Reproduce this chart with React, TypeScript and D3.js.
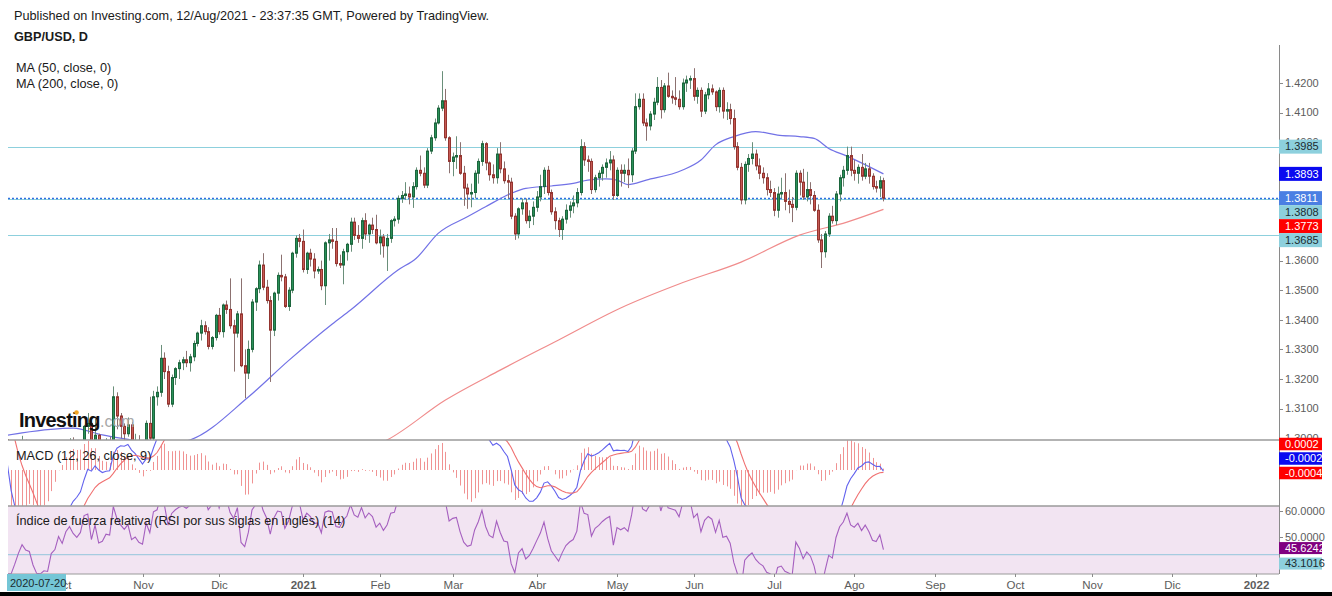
import React from "react";
import * as d3 from "d3";

// ---------------- DATA ----------------
// Closes before the first drawn candle (2020-07-20 .. 2020-09-04), used only to warm up MACD / RSI
const warmupCloses = [
  1.2655, 1.2735, 1.2735, 1.2730, 1.2790,
  1.2880, 1.2930, 1.2995, 1.3095, 1.3085,
  1.3075, 1.3090, 1.3140, 1.3125, 1.3050,
  1.3075, 1.3045, 1.3045, 1.3065, 1.3085,
  1.3110, 1.3245, 1.3095, 1.3215, 1.3090,
  1.3085, 1.3155, 1.3225, 1.3275, 1.3350,
  1.3370, 1.3410, 1.3315, 1.3265, 1.3280,
];

// Daily candles, one per weekday, from 2020-09-07 to 2021-08-12 (one row = one week)
const opens = [
  1.3280, 1.3155, 1.2975, 1.2995, 1.2795,
  1.2795, 1.2850, 1.2915, 1.2970, 1.2930,
  1.2920, 1.2815, 1.2740, 1.2735, 1.2750,
  1.2745, 1.2830, 1.2850, 1.2920, 1.2880,
  1.2945, 1.2975, 1.2940, 1.2920, 1.2945,
  1.3040, 1.3050, 1.2925, 1.3010, 1.2905,
  1.2915, 1.2955, 1.2950, 1.3140, 1.3075,
  1.3040, 1.3015, 1.3045, 1.2960, 1.2975,
  1.2945, 1.2935, 1.3050, 1.3000, 1.3140,
  1.3155, 1.3270, 1.3225, 1.3115, 1.3205,
  1.3235, 1.3255, 1.3265, 1.3255, 1.3275,
  1.3320, 1.3355, 1.3380, 1.3360, 1.3310,
  1.3340, 1.3415, 1.3360, 1.3450, 1.3435,
  1.3380, 1.3355, 1.3420, 1.3245, 1.3220,
  1.3300, 1.3460, 1.3505, 1.3585, 1.3510,
  1.3465, 1.3365, 1.3490, 1.3550, 1.3545,
  1.3445, 1.3500, 1.3625, 1.3675, 1.3665,
  1.3570, 1.3625, 1.3605, 1.3565, 1.3570,
  1.3515, 1.3660, 1.3670, 1.3665, 1.3590,
  1.3585, 1.3630, 1.3655, 1.3730, 1.3685,
  1.3675, 1.3735, 1.3690, 1.3720, 1.3705,
  1.3660, 1.3680, 1.3650, 1.3675, 1.3735,
  1.3740, 1.3810, 1.3820, 1.3825, 1.3815,
  1.3850, 1.3905, 1.3895, 1.3855, 1.3970,
  1.4015, 1.4065, 1.4115, 1.4140, 1.4015,
  1.3935, 1.3950, 1.3955, 1.3895, 1.3845,
  1.3825, 1.3830, 1.3895, 1.3935, 1.3995,
  1.3930, 1.3890, 1.3880, 1.3960, 1.3910,
  1.3870, 1.3865, 1.3750, 1.3690, 1.3775,
  1.3795, 1.3735, 1.3750, 1.3780, 1.3815,
  1.3850, 1.3905, 1.3830, 1.3765, 1.3735,
  1.3705, 1.3740, 1.3770, 1.3785, 1.3795,
  1.3830, 1.3985, 1.3940, 1.3935, 1.3840,
  1.3880, 1.3895, 1.3915, 1.3930, 1.3940,
  1.3820, 1.3905, 1.3895, 1.3905, 1.3890,
  1.3970, 1.4120, 1.4145, 1.4065, 1.4055,
  1.4095, 1.4135, 1.4185, 1.4110, 1.4190,
  1.4155, 1.4150, 1.4145, 1.4120, 1.4200,
  1.4210, 1.4215, 1.4155, 1.4175, 1.4105,
  1.4160, 1.4180, 1.4170, 1.4120, 1.4175,
  1.4105, 1.4110, 1.4080, 1.3985, 1.3915,
  1.3805, 1.3925, 1.3945, 1.3960, 1.3920,
  1.3895, 1.3880, 1.3840, 1.3830, 1.3770,
  1.3825, 1.3830, 1.3800, 1.3790, 1.3780,
  1.3895, 1.3865, 1.3815, 1.3840, 1.3820,
  1.3770, 1.3670, 1.3630, 1.3690, 1.3750,
  1.3735, 1.3825, 1.3880, 1.3905, 1.3955,
  1.3905, 1.3895, 1.3915, 1.3885, 1.3910,
  1.3885, 1.3850, 1.3845, 1.3870,
];
const highs = [
  1.3290, 1.3165, 1.3035, 1.3005, 1.2835,
  1.2865, 1.2950, 1.3008, 1.2995, 1.2985,
  1.2935, 1.2815, 1.2775, 1.2805, 1.2765,
  1.2855, 1.2895, 1.2945, 1.2980, 1.2960,
  1.3000, 1.3003, 1.2955, 1.2985, 1.3045,
  1.3085, 1.3060, 1.3065, 1.3015, 1.2955,
  1.3000, 1.3005, 1.3175, 1.3155, 1.3085,
  1.3050, 1.3070, 1.3055, 1.3015, 1.3010,
  1.2965, 1.3060, 1.3140, 1.3160, 1.3175,
  1.3315, 1.3290, 1.3245, 1.3215, 1.3240,
  1.3265, 1.3275, 1.3295, 1.3285, 1.3330,
  1.3360, 1.3400, 1.3395, 1.3375, 1.3345,
  1.3420, 1.3440, 1.3455, 1.3465, 1.3540,
  1.3400, 1.3430, 1.3540, 1.3300, 1.3330,
  1.3470, 1.3510, 1.3600, 1.3625, 1.3535,
  1.3480, 1.3495, 1.3560, 1.3620, 1.3555,
  1.3510, 1.3630, 1.3685, 1.3690, 1.3705,
  1.3630, 1.3640, 1.3625, 1.3580, 1.3600,
  1.3665, 1.3690, 1.3710, 1.3710, 1.3620,
  1.3640, 1.3660, 1.3745, 1.3745, 1.3720,
  1.3745, 1.3760, 1.3725, 1.3745, 1.3755,
  1.3705, 1.3690, 1.3690, 1.3740, 1.3750,
  1.3820, 1.3835, 1.3865, 1.3850, 1.3865,
  1.3915, 1.3955, 1.3915, 1.3980, 1.4025,
  1.4080, 1.4125, 1.4240, 1.4180, 1.4020,
  1.3965, 1.4020, 1.4000, 1.3920, 1.3860,
  1.3860, 1.3905, 1.3945, 1.4005, 1.4000,
  1.3935, 1.3925, 1.3980, 1.4000, 1.3935,
  1.3890, 1.3880, 1.3760, 1.3780, 1.3810,
  1.3810, 1.3770, 1.3800, 1.3835, 1.3890,
  1.3915, 1.3920, 1.3840, 1.3780, 1.3745,
  1.3750, 1.3790, 1.3800, 1.3820, 1.3845,
  1.4010, 1.4000, 1.3955, 1.3945, 1.3890,
  1.3905, 1.3925, 1.3945, 1.3970, 1.3955,
  1.3915, 1.3925, 1.3925, 1.3945, 1.3980,
  1.4165, 1.4165, 1.4165, 1.4080, 1.4105,
  1.4150, 1.4220, 1.4210, 1.4200, 1.4235,
  1.4175, 1.4220, 1.4175, 1.4215, 1.4225,
  1.4225, 1.4250, 1.4185, 1.4185, 1.4170,
  1.4200, 1.4195, 1.4175, 1.4185, 1.4185,
  1.4135, 1.4130, 1.4110, 1.4000, 1.3930,
  1.3935, 1.3960, 1.4000, 1.3975, 1.3945,
  1.3915, 1.3895, 1.3870, 1.3845, 1.3850,
  1.3880, 1.3895, 1.3840, 1.3815, 1.3905,
  1.3905, 1.3910, 1.3900, 1.3865, 1.3835,
  1.3790, 1.3690, 1.3700, 1.3760, 1.3785,
  1.3835, 1.3890, 1.3920, 1.3985, 1.3985,
  1.3940, 1.3925, 1.3960, 1.3930, 1.3930,
  1.3895, 1.3870, 1.3885, 1.3880,
];
const lows = [
  1.3150, 1.2965, 1.2925, 1.2765, 1.2765,
  1.2775, 1.2825, 1.2900, 1.2865, 1.2900,
  1.2800, 1.2720, 1.2675, 1.2700, 1.2690,
  1.2740, 1.2795, 1.2805, 1.2845, 1.2845,
  1.2920, 1.2890, 1.2865, 1.2910, 1.2925,
  1.3015, 1.2915, 1.2910, 1.2865, 1.2890,
  1.2905, 1.2870, 1.2940, 1.3030, 1.3000,
  1.2990, 1.3005, 1.2940, 1.2915, 1.2880,
  1.2855, 1.2920, 1.2855, 1.2990, 1.3110,
  1.3140, 1.3200, 1.3105, 1.3105, 1.3180,
  1.3200, 1.3230, 1.3240, 1.3225, 1.3260,
  1.3310, 1.3330, 1.3350, 1.3300, 1.3300,
  1.3330, 1.3350, 1.3340, 1.3420, 1.3370,
  1.3225, 1.3340, 1.3240, 1.3135, 1.3200,
  1.3290, 1.3430, 1.3490, 1.3500, 1.3455,
  1.3190, 1.3345, 1.3465, 1.3530, 1.3440,
  1.3430, 1.3490, 1.3610, 1.3645, 1.3560,
  1.3555, 1.3580, 1.3540, 1.3555, 1.3500,
  1.3450, 1.3600, 1.3640, 1.3580, 1.3575,
  1.3520, 1.3600, 1.3630, 1.3670, 1.3660,
  1.3640, 1.3670, 1.3660, 1.3690, 1.3655,
  1.3620, 1.3610, 1.3565, 1.3660, 1.3715,
  1.3725, 1.3795, 1.3805, 1.3790, 1.3778,
  1.3840, 1.3885, 1.3845, 1.3845, 1.3960,
  1.4005, 1.4060, 1.4105, 1.4005, 1.3895,
  1.3885, 1.3910, 1.3890, 1.3785, 1.3775,
  1.3780, 1.3810, 1.3860, 1.3920, 1.3905,
  1.3870, 1.3860, 1.3860, 1.3895, 1.3860,
  1.3810, 1.3740, 1.3670, 1.3675, 1.3755,
  1.3725, 1.3710, 1.3720, 1.3765, 1.3800,
  1.3825, 1.3820, 1.3755, 1.3705, 1.3680,
  1.3670, 1.3725, 1.3745, 1.3760, 1.3780,
  1.3820, 1.3920, 1.3900, 1.3825, 1.3830,
  1.3850, 1.3870, 1.3880, 1.3905, 1.3805,
  1.3815, 1.3850, 1.3865, 1.3845, 1.3865,
  1.3960, 1.4110, 1.4055, 1.4005, 1.4040,
  1.4075, 1.4125, 1.4080, 1.4100, 1.4150,
  1.4130, 1.4125, 1.4110, 1.4110, 1.4170,
  1.4180, 1.4140, 1.4130, 1.4085, 1.4095,
  1.4145, 1.4160, 1.4105, 1.4100, 1.4080,
  1.4075, 1.4060, 1.3975, 1.3905, 1.3790,
  1.3790, 1.3900, 1.3925, 1.3905, 1.3875,
  1.3860, 1.3820, 1.3815, 1.3750, 1.3745,
  1.3810, 1.3770, 1.3760, 1.3730, 1.3770,
  1.3820, 1.3805, 1.3800, 1.3790, 1.3765,
  1.3660, 1.3575, 1.3610, 1.3680, 1.3725,
  1.3720, 1.3800, 1.3850, 1.3890, 1.3885,
  1.3870, 1.3860, 1.3870, 1.3875, 1.3860,
  1.3840, 1.3830, 1.3815, 1.3800,
];
const closes = [
  1.3155, 1.2975, 1.2995, 1.2795, 1.2795,
  1.2850, 1.2915, 1.2970, 1.2930, 1.2920,
  1.2815, 1.2740, 1.2735, 1.2750, 1.2745,
  1.2830, 1.2850, 1.2920, 1.2880, 1.2945,
  1.2975, 1.2940, 1.2920, 1.2945, 1.3040,
  1.3050, 1.2925, 1.3010, 1.2905, 1.2915,
  1.2955, 1.2950, 1.3140, 1.3075, 1.3040,
  1.3015, 1.3045, 1.2960, 1.2975, 1.2945,
  1.2935, 1.3050, 1.3000, 1.3140, 1.3155,
  1.3270, 1.3225, 1.3115, 1.3205, 1.3235,
  1.3255, 1.3265, 1.3255, 1.3275, 1.3320,
  1.3355, 1.3380, 1.3360, 1.3310, 1.3340,
  1.3415, 1.3360, 1.3450, 1.3435, 1.3380,
  1.3355, 1.3420, 1.3245, 1.3220, 1.3300,
  1.3460, 1.3505, 1.3585, 1.3510, 1.3465,
  1.3365, 1.3490, 1.3550, 1.3545, 1.3445,
  1.3500, 1.3625, 1.3675, 1.3665, 1.3570,
  1.3625, 1.3605, 1.3565, 1.3570, 1.3515,
  1.3660, 1.3670, 1.3665, 1.3590, 1.3585,
  1.3630, 1.3655, 1.3730, 1.3685, 1.3675,
  1.3735, 1.3690, 1.3720, 1.3705, 1.3660,
  1.3680, 1.3650, 1.3675, 1.3735, 1.3740,
  1.3810, 1.3820, 1.3825, 1.3815, 1.3850,
  1.3905, 1.3895, 1.3855, 1.3970, 1.4015,
  1.4065, 1.4115, 1.4140, 1.4015, 1.3935,
  1.3950, 1.3955, 1.3895, 1.3845, 1.3825,
  1.3830, 1.3895, 1.3935, 1.3995, 1.3930,
  1.3890, 1.3880, 1.3960, 1.3910, 1.3870,
  1.3865, 1.3750, 1.3690, 1.3775, 1.3795,
  1.3735, 1.3750, 1.3780, 1.3815, 1.3850,
  1.3905, 1.3830, 1.3765, 1.3735, 1.3705,
  1.3740, 1.3770, 1.3785, 1.3795, 1.3830,
  1.3985, 1.3940, 1.3935, 1.3840, 1.3880,
  1.3895, 1.3915, 1.3930, 1.3940, 1.3820,
  1.3905, 1.3895, 1.3905, 1.3890, 1.3970,
  1.4120, 1.4145, 1.4065, 1.4055, 1.4095,
  1.4135, 1.4185, 1.4110, 1.4190, 1.4155,
  1.4150, 1.4145, 1.4120, 1.4200, 1.4210,
  1.4215, 1.4155, 1.4175, 1.4105, 1.4160,
  1.4180, 1.4170, 1.4120, 1.4175, 1.4105,
  1.4110, 1.4080, 1.3985, 1.3915, 1.3805,
  1.3925, 1.3945, 1.3960, 1.3920, 1.3895,
  1.3880, 1.3840, 1.3830, 1.3770, 1.3825,
  1.3830, 1.3800, 1.3790, 1.3780, 1.3895,
  1.3865, 1.3815, 1.3840, 1.3820, 1.3770,
  1.3670, 1.3630, 1.3690, 1.3750, 1.3735,
  1.3825, 1.3880, 1.3905, 1.3955, 1.3905,
  1.3895, 1.3915, 1.3885, 1.3910, 1.3885,
  1.3850, 1.3845, 1.3870, 1.3811,
];

// Moving averages
const ma50Dates = [
  "2020-09-07", "2020-09-16", "2020-10-06", "2020-10-16", "2020-10-28", "2020-11-09", "2020-11-19",
  "2020-12-11", "2020-12-28", "2021-01-13", "2021-01-20", "2021-02-08", "2021-02-15", "2021-02-23",
  "2021-03-05", "2021-03-12", "2021-03-23", "2021-03-29", "2021-04-07", "2021-04-15", "2021-04-21",
  "2021-04-28", "2021-05-03", "2021-05-06", "2021-05-13", "2021-05-27", "2021-06-03", "2021-06-09",
  "2021-06-16", "2021-06-24", "2021-07-02", "2021-07-12", "2021-07-16", "2021-07-22", "2021-07-29",
  "2021-08-12",
];
const ma50Values = [
  1.3003, 1.3018, 1.3034, 1.3011, 1.2994, 1.2978, 1.2994,
  1.3139, 1.3262, 1.3386, 1.3433, 1.3568, 1.3608, 1.3692,
  1.3748, 1.3782, 1.3827, 1.3844, 1.3852, 1.3861, 1.3872,
  1.3876, 1.3872, 1.3857, 1.3872, 1.3906, 1.3940, 1.3991,
  1.4019, 1.4036, 1.4024, 1.4019, 1.4013, 1.3979, 1.3953,
  1.3893,
];
const ma200Dates = [
  "2020-11-02", "2021-01-04", "2021-02-03", "2021-02-25", "2021-03-18", "2021-04-09",
  "2021-05-04", "2021-05-26", "2021-06-18", "2021-07-12", "2021-07-29", "2021-08-12",
];
const ma200Values = [
  1.2790, 1.2925, 1.2994, 1.3129, 1.3230, 1.3332,
  1.3440, 1.3521, 1.3595, 1.3686, 1.3730, 1.3773,
];

// Horizontal drawn lines and last-value labels
const levelLines = [1.3985, 1.3808, 1.3685];
const lastPrice = 1.3811;
const macdLastValues = [0.0002, -0.0002, -0.0004]; // histogram, MACD, signal
const rsiLevel = 43.1016;
const rsiLast = 45.6242;

// Axis ticks
const priceTicks = [1.30, 1.31, 1.32, 1.33, 1.34, 1.35, 1.36, 1.37, 1.38, 1.39, 1.40, 1.41, 1.42];
const rsiTicks = [50, 60];
const monthTickDates = [
  "2020-10-01", "2020-11-02", "2020-12-01", "2021-01-01", "2021-02-01", "2021-03-01", "2021-04-01",
  "2021-05-03", "2021-06-01", "2021-07-01", "2021-08-02", "2021-09-01", "2021-10-01", "2021-11-01",
  "2021-12-01", "2022-01-03",
];
const monthTickLabels = [
  "Oct", "Nov", "Dic", "2021", "Feb", "Mar", "Abr", "May", "Jun", "Jul", "Ago", "Sep", "Oct", "Nov", "Dic", "2022",
];

// ---------------- LAYOUT ----------------
const W = 1332;
const H = 596;
const LEFT = 8;
const AXIS_X = 1279;
const MAIN_TOP = 45;
const MAIN_BOTTOM = 440;
const MACD_BOTTOM = 506;
const RSI_BOTTOM = 574;
const FONT = "'Liberation Sans', Arial, Helvetica, sans-serif";
const TXT = 12.7;
const PRICE_LABEL_H = 14;

// weekday calendar
const DAY = 86400000;
const parseDay = (s: string) => {
  const [y, m, d] = s.split("-").map(Number);
  return Date.UTC(y, m - 1, d);
};
const calendar: number[] = [];
for (let t = parseDay("2020-07-20"); t <= parseDay("2022-02-28"); t += DAY) {
  const wd = new Date(t).getUTCDay();
  if (wd !== 0 && wd !== 6) calendar.push(t);
}
const calIndex = new Map<number, number>(calendar.map((t, i) => [t, i]));
const anchor = calIndex.get(parseDay("2020-11-02"))!;
const pos = (s: string) => calIndex.get(parseDay(s))! - anchor;
const candleStart = pos("2020-09-07");
const warmStart = pos("2020-07-20");

const xs = d3.scaleLinear().domain([0, 100]).range([142.5, 142.5 + 365]);
const yPrice = d3.scaleLinear().domain([1.3, 1.42]).range([438.2, 83]);
const yMacd = d3.scaleLinear().domain([0, 0.003]).range([470, 440]);
const yRsi = d3.scaleLinear().domain([50, 60]).range([536.7, 510.7]);

// ---------------- INDICATORS ----------------
const allCloses = warmupCloses.concat(closes);
function emaSeries(src: number[], n: number): (number | null)[] {
  const out: (number | null)[] = new Array(src.length).fill(null);
  const k = 2 / (n + 1);
  let prev = 0;
  for (let i = 0; i < src.length; i++) {
    if (i === n - 1) prev = d3.mean(src.slice(0, n)) as number;
    else if (i >= n) prev = src[i] * k + prev * (1 - k);
    if (i >= n - 1) out[i] = prev;
  }
  return out;
}
const ema12 = emaSeries(allCloses, 12);
const ema26 = emaSeries(allCloses, 26);
const macdStart = 25;
const macdVals: number[] = [];
for (let i = macdStart; i < allCloses.length; i++) macdVals.push((ema12[i] as number) - (ema26[i] as number));
const sigVals = emaSeries(macdVals, 9);
type Pt = { p: number; v: number };
const macdLine: Pt[] = [];
const signalLine: Pt[] = [];
const histBars: Pt[] = [];
macdVals.forEach((m, k) => {
  const p = warmStart + macdStart + k;
  macdLine.push({ p, v: m });
  const s = sigVals[k];
  if (s !== null) {
    signalLine.push({ p, v: s });
    histBars.push({ p, v: m - s });
  }
});

const rsiLine: Pt[] = [];
{
  let ag = 0;
  let al = 0;
  for (let i = 1; i < allCloses.length; i++) {
    const ch = allCloses[i] - allCloses[i - 1];
    const g = Math.max(ch, 0);
    const l = Math.max(-ch, 0);
    if (i <= 14) {
      ag += g / 14;
      al += l / 14;
    } else {
      ag = (ag * 13 + g) / 14;
      al = (al * 13 + l) / 14;
    }
    if (i >= 14) {
      const r = al === 0 ? 100 : 100 - 100 / (1 + ag / al);
      rsiLine.push({ p: warmStart + i, v: r });
    }
  }
}

// ---------------- HELPERS ----------------
type Lbl = { y: number; text: string; bg: string; fg: string };
function stackDown(items: Lbl[], gap: number): Lbl[] {
  const s = [...items].sort((a, b) => a.y - b.y);
  let prev = -Infinity;
  return s.map((it) => {
    const y = Math.max(it.y, prev + gap);
    prev = y;
    return { ...it, y };
  });
}
function stackUp(items: Lbl[], gap: number): Lbl[] {
  const s = [...items].sort((a, b) => b.y - a.y);
  let prev = Infinity;
  return s.map((it) => {
    const y = Math.min(it.y, prev - gap);
    prev = y;
    return { ...it, y };
  });
}

const CYAN = "#8dd0dd";

export default function App() {
  const ma50Pts: [number, number][] = ma50Dates.map((d, i) => [xs(pos(d)), yPrice(ma50Values[i])]);
  const ma200Pts: [number, number][] = ma200Dates.map((d, i) => [xs(pos(d)), yPrice(ma200Values[i])]);
  const curve = d3.line().curve(d3.curveMonotoneX);

  const lineP = d3
    .line<Pt>()
    .x((d) => xs(d.p))
    .y((d) => yMacd(d.v));
  const lineR = d3
    .line<Pt>()
    .x((d) => xs(d.p))
    .y((d) => yRsi(d.v));

  const priceLabels = stackDown(
    [
      { y: yPrice(levelLines[0]), text: levelLines[0].toFixed(4), bg: CYAN, fg: "#1b2b30" },
      { y: yPrice(ma50Values[ma50Values.length - 1]), text: ma50Values[ma50Values.length - 1].toFixed(4), bg: "#0a0af0", fg: "#ffffff" },
      { y: yPrice(lastPrice), text: lastPrice.toFixed(4), bg: "#4b7fe3", fg: "#ffffff" },
      { y: yPrice(levelLines[1]), text: levelLines[1].toFixed(4), bg: CYAN, fg: "#1b2b30" },
      { y: yPrice(ma200Values[ma200Values.length - 1]), text: ma200Values[ma200Values.length - 1].toFixed(4), bg: "#ff0000", fg: "#ffffff" },
      { y: yPrice(levelLines[2]), text: levelLines[2].toFixed(4), bg: CYAN, fg: "#1b2b30" },
    ],
    14
  );
  const macdLabels = stackUp(
    [
      { y: yMacd(macdLastValues[0]), text: macdLastValues[0].toFixed(4), bg: "#ff0000", fg: "#ffffff" },
      { y: yMacd(macdLastValues[1]), text: macdLastValues[1].toFixed(4), bg: "#0a0af0", fg: "#ffffff" },
      { y: 473, text: macdLastValues[2].toFixed(4), bg: "#ff0000", fg: "#ffffff" },
    ],
    14.5
  );
  const rsiLabels = stackDown(
    [
      { y: yRsi(rsiLast), text: rsiLast.toFixed(4), bg: "#800080", fg: "#ffffff" },
      { y: yRsi(rsiLevel), text: rsiLevel.toFixed(4), bg: CYAN, fg: "#1b2b30" },
    ],
    15.5
  );

  // tick labels completely hidden behind value boxes are not drawn
  const inBox = (yy: number) => priceLabels.some((l) => yy >= l.y - PRICE_LABEL_H / 2 && yy <= l.y + PRICE_LABEL_H / 2);
  const visiblePriceTicks = priceTicks.filter((v) => !(inBox(yPrice(v) - 4) && inBox(yPrice(v) + 4)));

  const drawLabel = (l: Lbl, h: number, key: string) => (
    <g key={key}>
      <rect x={AXIS_X} y={l.y - h / 2} width={43} height={h} fill={l.bg} />
      <text x={1285} y={l.y} dy="0.35em" fontSize={11} fill={l.fg} fontFamily={FONT}>
        {l.text}
      </text>
    </g>
  );

  return (
    <svg
      width={W}
      height={H}
      style={{ position: "absolute", left: 0, top: 0, display: "block", background: "#ffffff" }}
      fontFamily={FONT}
    >
      <defs>
        <clipPath id="clipMain">
          <rect x={LEFT} y={MAIN_TOP} width={AXIS_X - LEFT} height={MAIN_BOTTOM - MAIN_TOP} />
        </clipPath>
        <clipPath id="clipMacd">
          <rect x={LEFT} y={MAIN_BOTTOM} width={AXIS_X - LEFT} height={MACD_BOTTOM - MAIN_BOTTOM} />
        </clipPath>
        <clipPath id="clipRsi">
          <rect x={LEFT} y={MACD_BOTTOM} width={AXIS_X - LEFT} height={RSI_BOTTOM - MACD_BOTTOM} />
        </clipPath>
      </defs>
      <rect x={0} y={0} width={W} height={H} fill="#ffffff" />

      {/* header texts */}
      <text x={14} y={20} fontSize={TXT} fill="#1a1a1a">
        Published on Investing.com, 12/Aug/2021 - 23:37:35 GMT, Powered by TradingView.
      </text>
      <text x={14} y={41} fontSize={TXT} fontWeight="bold" fill="#1a1a1a">
        GBP/USD, D
      </text>

      {/* RSI background */}
      <rect x={LEFT} y={MACD_BOTTOM} width={AXIS_X - LEFT} height={RSI_BOTTOM - MACD_BOTTOM} fill="#f2e4f2" />

      {/* main panel */}
      <g clipPath="url(#clipMain)">
        {levelLines.map((v, i) => (
          <line key={"lv" + i} x1={LEFT} x2={AXIS_X} y1={Math.round(yPrice(v)) + 0.5} y2={Math.round(yPrice(v)) + 0.5} stroke={CYAN} strokeWidth={1.2} />
        ))}
        <line
          x1={LEFT}
          x2={AXIS_X}
          y1={Math.round(yPrice(lastPrice)) + 0.5}
          y2={Math.round(yPrice(lastPrice)) + 0.5}
          stroke="#2f6fe0"
          strokeWidth={1.3}
          strokeDasharray="2,2"
        />
        <path d={curve(ma200Pts) || ""} fill="none" stroke="#f08c8c" strokeWidth={1.2} />
        <path d={curve(ma50Pts) || ""} fill="none" stroke="#7272e6" strokeWidth={1.2} />
        {closes.map((c, i) => {
          const p = candleStart + i;
          const cx = Math.round(xs(p));
          if (cx < LEFT - 3) return null;
          const o = opens[i];
          const up = c >= o;
          const yTop = yPrice(Math.max(o, c));
          const yBot = yPrice(Math.min(o, c));
          const h = Math.max(1, yBot - yTop);
          return (
            <g key={"c" + i}>
              <line x1={cx + 0.5} x2={cx + 0.5} y1={yPrice(highs[i])} y2={yPrice(lows[i])} stroke={up ? "#6a8f7a" : "#8c7170"} strokeWidth={1} />
              <rect x={cx - 0.5} y={yTop} width={2} height={h} fill={up ? "#2a9159" : "#c65a54"} stroke={up ? "#1c663d" : "#94342f"} strokeWidth={1} />
            </g>
          );
        })}
      </g>
      <text x={16} y={72} fontSize={TXT} fill="#1a1a1a">
        MA (50, close, 0)
      </text>
      <text x={16} y={88} fontSize={TXT} fill="#1a1a1a">
        MA (200, close, 0)
      </text>

      {/* Investing logo */}
      <g>
        <text x={19} y={427} fontSize={20} fontWeight="bold" fill="#111111" letterSpacing={-0.8}>
          Investing
        </text>
        <text x={100} y={427} fontSize={16} fill="#a8a8a8">
          .com
        </text>
        <circle cx={76.5} cy={412.5} r={2.3} fill="#f5a623" />
      </g>

      {/* MACD panel */}
      <g clipPath="url(#clipMacd)">
        {histBars.map((b, i) => {
          const cx = Math.round(xs(b.p)) + 0.5;
          return <line key={"h" + i} x1={cx} x2={cx} y1={yMacd(0)} y2={yMacd(b.v)} stroke="#f09393" strokeWidth={1} />;
        })}
        <path d={lineP(macdLine) || ""} fill="none" stroke="#6262ee" strokeWidth={1.1} />
        <path d={lineP(signalLine) || ""} fill="none" stroke="#f07070" strokeWidth={1.1} />
      </g>
      <text x={16} y={460} fontSize={TXT} fill="#1a1a1a">
        MACD (12, 26, close, 9)
      </text>

      {/* RSI panel */}
      <g clipPath="url(#clipRsi)">
        <line x1={LEFT} x2={AXIS_X} y1={yRsi(rsiLevel)} y2={yRsi(rsiLevel)} stroke="#a6cbe0" strokeWidth={1.3} />
        <path d={lineR(rsiLine) || ""} fill="none" stroke="#a55fbf" strokeWidth={1.1} />
      </g>
      <text x={16} y={525} fontSize={TXT} fill="#1a1a1a">
        Índice de fuerza relativa (RSI por sus siglas en inglés) (14)
      </text>

      {/* separators and axes */}
      <line x1={LEFT} x2={AXIS_X} y1={MAIN_BOTTOM} y2={MAIN_BOTTOM} stroke="#9a9a9a" strokeWidth={1.6} />
      <line x1={LEFT} x2={AXIS_X} y1={MACD_BOTTOM} y2={MACD_BOTTOM} stroke="#9a9a9a" strokeWidth={1.6} />
      <line x1={LEFT} x2={AXIS_X} y1={RSI_BOTTOM} y2={RSI_BOTTOM} stroke="#9a9a9a" strokeWidth={1.2} />
      <line x1={AXIS_X + 0.5} x2={AXIS_X + 0.5} y1={MAIN_TOP} y2={RSI_BOTTOM} stroke="#8a8a8a" strokeWidth={1} />

      {/* price axis ticks */}
      {priceTicks.map((v, i) => (
        <line key={"ptl" + i} x1={AXIS_X} x2={AXIS_X + 4} y1={Math.round(yPrice(v)) + 0.5} y2={Math.round(yPrice(v)) + 0.5} stroke="#8a8a8a" />
      ))}
      {visiblePriceTicks.map((v, i) => (
        <text key={"pt" + i} x={1285} y={yPrice(v)} dy="0.35em" fontSize={11} fill="#5c5c5c">
          {v.toFixed(4)}
        </text>
      ))}
      {rsiTicks.map((v, i) => (
        <g key={"rt" + i}>
          <line x1={AXIS_X} x2={AXIS_X + 4} y1={Math.round(yRsi(v)) + 0.5} y2={Math.round(yRsi(v)) + 0.5} stroke="#8a8a8a" />
          <text x={1285} y={yRsi(v)} dy="0.35em" fontSize={11} fill="#5c5c5c">
            {v.toFixed(4)}
          </text>
        </g>
      ))}
      {priceLabels.map((l, i) => drawLabel(l, PRICE_LABEL_H, "pl" + i))}
      {macdLabels.map((l, i) => drawLabel(l, 12.5, "ml" + i))}
      {rsiLabels.map((l, i) => drawLabel(l, 12, "rl" + i))}

      {/* time axis */}
      {monthTickDates.map((d, i) => {
        const x = Math.round(xs(pos(d))) + 0.5;
        const isYear = /^\d{4}$/.test(monthTickLabels[i]);
        return (
          <g key={"mt" + i}>
            <line x1={x} x2={x} y1={RSI_BOTTOM} y2={RSI_BOTTOM + 3} stroke="#8a8a8a" />
            <text x={x} y={589} textAnchor="middle" fontSize={11.5} fontWeight={isYear ? "bold" : "normal"} fill="#5c5c5c">
              {monthTickLabels[i]}
            </text>
          </g>
        );
      })}
      <rect x={7} y={574} width={59} height={17} fill="#74c6d6" />
      <text x={10} y={587} fontSize={11} fill="#1b2b30">
        2020-07-20
      </text>

      {/* bottom frame band */}
      <rect x={0} y={592} width={W} height={4} fill="#000000" />
    </svg>
  );
}
